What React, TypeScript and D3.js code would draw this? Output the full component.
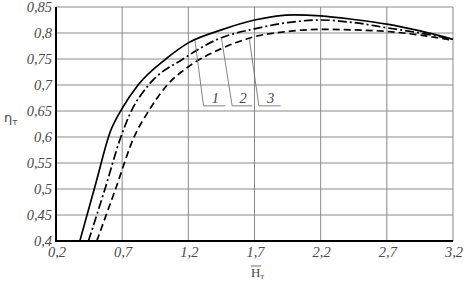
import React from "react";
import * as d3 from "d3";

const W = 467;
const H = 287;

const xTicks = [0.2, 0.7, 1.2, 1.7, 2.2, 2.7, 3.2];
const yTicks = [0.4, 0.45, 0.5, 0.55, 0.6, 0.65, 0.7, 0.75, 0.8, 0.85];
const xTickLabels = ["0,2", "0,7", "1,2", "1,7", "2,2", "2,7", "3,2"];
const yTickLabels = ["0,4", "0,45", "0,5", "0,55", "0,6", "0,65", "0,7", "0,75", "0,8", "0,85"];

const curve1: [number, number][] = [
  [0.38, 0.4], [0.5, 0.51], [0.61, 0.61], [0.7, 0.655], [0.82, 0.7], [1.03, 0.75],
  [1.2, 0.781], [1.45, 0.806], [1.7, 0.825], [2.0, 0.835], [2.2, 0.833],
  [2.45, 0.826], [2.7, 0.817], [2.95, 0.804], [3.2, 0.788],
];
const curve2: [number, number][] = [
  [0.445, 0.4], [0.57, 0.5], [0.69, 0.6], [0.76, 0.645], [0.9, 0.7], [1.16, 0.75],
  [1.44, 0.79], [1.7, 0.808], [1.95, 0.82], [2.2, 0.825], [2.45, 0.82],
  [2.7, 0.81], [2.95, 0.8], [3.2, 0.788],
];
const curve3: [number, number][] = [
  [0.508, 0.4], [0.65, 0.5], [0.79, 0.6], [0.9, 0.65], [1.04, 0.7], [1.2, 0.735],
  [1.45, 0.77], [1.7, 0.793], [1.95, 0.803], [2.2, 0.807], [2.45, 0.806],
  [2.7, 0.803], [2.95, 0.796], [3.2, 0.786],
];

const seriesNames = ["1", "2", "3"];
const seriesData = [curve1, curve2, curve3];
const seriesDash = ["none", "9 3 2 3", "7 4"];
const pointerAnchorX = [1.25, 1.45, 1.66];
const pointerBottomX = [1.315, 1.531, 1.733];
const pointerEndX = [1.48, 1.683, 1.897];
const pointerLevel = 0.66;

const SERIF = '"Liberation Serif", "Times New Roman", Times, "DejaVu Serif", serif';

export default function App() {
  const x = d3.scaleLinear().domain([0.2, 3.2]).range([56, 453]);
  const y = d3.scaleLinear().domain([0.4, 0.85]).range([241, 7]);
  const line = d3
    .line<[number, number]>()
    .x((d) => x(d[0]))
    .y((d) => y(d[1]))
    .curve(d3.curveMonotoneX);

  const interp = (data: [number, number][], xv: number) => {
    for (let i = 0; i < data.length - 1; i++) {
      if (xv >= data[i][0] && xv <= data[i + 1][0]) {
        const t = (xv - data[i][0]) / (data[i + 1][0] - data[i][0]);
        return data[i][1] + t * (data[i + 1][1] - data[i][1]);
      }
    }
    return data[data.length - 1][1];
  };

  const grid = "#8a8a8a";
  const textCol = "#4a4a4a";
  const italicSerif = { fontFamily: SERIF, fontStyle: "italic", fontSize: "14.5px" };

  return (
    <svg
      width={W}
      height={H}
      style={{ position: "absolute", left: 0, top: 0, background: "#fff" }}
    >
      <rect x={0} y={0} width={W} height={H} fill="#fff" />
      {xTicks.map((t) => (
        <line key={"gx" + t} x1={x(t)} x2={x(t)} y1={y(0.85)} y2={y(0.4)} stroke={grid} strokeWidth={1} />
      ))}
      {yTicks.map((t) => (
        <line key={"gy" + t} x1={x(0.2)} x2={x(3.2)} y1={y(t)} y2={y(t)} stroke={grid} strokeWidth={1} />
      ))}
      <line x1={x(0.2)} x2={x(0.2)} y1={y(0.85)} y2={y(0.4) + 1} stroke="#000" strokeWidth={2} />
      <line x1={x(0.2) - 1} x2={x(3.2)} y1={y(0.4)} y2={y(0.4)} stroke="#000" strokeWidth={2} />
      {yTicks.map((t, i) => (
        <text key={"ly" + t} x={52} y={y(t) + 5} textAnchor="end" style={italicSerif} fill={textCol}>
          {yTickLabels[i]}
        </text>
      ))}
      {xTicks.map((t, i) => (
        <text key={"lx" + t} x={x(t) + 1} y={257} textAnchor="middle" style={italicSerif} fill={textCol}>
          {xTickLabels[i]}
        </text>
      ))}
      {seriesData.map((d, i) => (
        <path
          key={"c" + i}
          d={line(d) || ""}
          fill="none"
          stroke="#000"
          strokeWidth={1.7}
          strokeDasharray={seriesDash[i]}
        />
      ))}
      {seriesNames.map((n, i) => {
        const ax = x(pointerAnchorX[i]);
        const ay = y(interp(seriesData[i], pointerAnchorX[i]));
        const bx = x(pointerBottomX[i]);
        const by = y(pointerLevel);
        const ex = x(pointerEndX[i]);
        return (
          <g key={"p" + n}>
            <polyline
              points={`${ax},${ay} ${bx},${by} ${ex},${by}`}
              fill="none"
              stroke="#666"
              strokeWidth={0.8}
            />
            <text x={(bx + ex) / 2 + 1} y={by - 3} textAnchor="middle" style={italicSerif} fill={textCol}>
              {n}
            </text>
          </g>
        );
      })}
      <text x={4} y={122} style={{ fontFamily: '"DejaVu Sans", sans-serif', fontSize: "13px" }} fill={textCol}>
        η
        <tspan style={{ fontSize: "9px" }} dy={3}>т</tspan>
      </text>
      <text x={251} y={277} style={{ fontFamily: SERIF, fontSize: "13px" }} fill={textCol}>
        H
        <tspan style={{ fontSize: "8px" }} dy={2}>т</tspan>
      </text>
      <line x1={251} x2={261} y1={266} y2={266} stroke={textCol} strokeWidth={0.8} />
    </svg>
  );
}
